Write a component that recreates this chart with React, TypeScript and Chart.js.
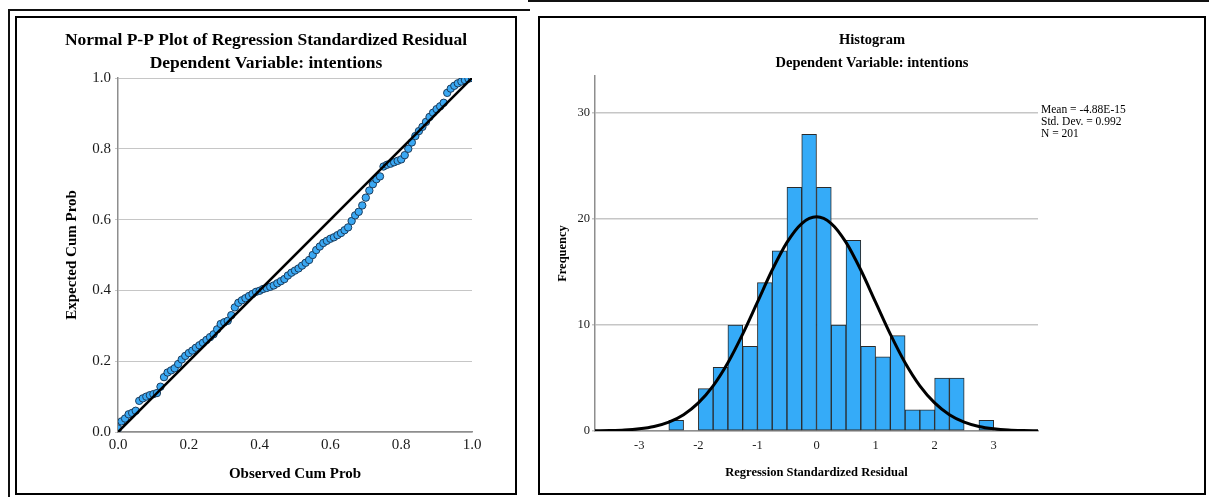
import React, { useEffect, useRef } from "react";
import { Chart, registerables } from "chart.js";

Chart.register(...registerables);

const FONT = "'Liberation Serif', 'Times New Roman', serif";

// ---------- P-P plot data ----------
const ppTitleLines = ["Normal P-P Plot of Regression Standardized Residual", "Dependent Variable: intentions"];
const ppXAxisTitle = "Observed Cum Prob";
const ppYAxisTitle = "Expected Cum Prob";
const ppTicks = [0, 0.2, 0.4, 0.6, 0.8, 1.0];
const observedCumProb = [
  0.00, 0.01, 0.02, 0.03, 0.04, 0.05, 0.06, 0.07, 0.08, 0.09,
  0.10, 0.11, 0.12, 0.13, 0.14, 0.15, 0.16, 0.17, 0.18, 0.19,
  0.20, 0.21, 0.22, 0.23, 0.24, 0.25, 0.26, 0.27, 0.28, 0.29,
  0.30, 0.31, 0.32, 0.33, 0.34, 0.35, 0.36, 0.37, 0.38, 0.39,
  0.40, 0.41, 0.42, 0.43, 0.44, 0.45, 0.46, 0.47, 0.48, 0.49,
  0.50, 0.51, 0.52, 0.53, 0.54, 0.55, 0.56, 0.57, 0.58, 0.59,
  0.60, 0.61, 0.62, 0.63, 0.64, 0.65, 0.66, 0.67, 0.68, 0.69,
  0.70, 0.71, 0.72, 0.73, 0.74, 0.75, 0.76, 0.77, 0.78, 0.79,
  0.80, 0.81, 0.82, 0.83, 0.84, 0.85, 0.86, 0.87, 0.88, 0.89,
  0.90, 0.91, 0.92, 0.93, 0.94, 0.95, 0.96, 0.97, 0.98, 0.99,
  1.00,
];
const expectedCumProb = [
  0.010, 0.030, 0.038, 0.050, 0.054, 0.060, 0.088, 0.095, 0.100, 0.104,
  0.107, 0.110, 0.128, 0.155, 0.168, 0.174, 0.180, 0.192, 0.205, 0.215,
  0.223, 0.230, 0.238, 0.245, 0.252, 0.260, 0.268, 0.276, 0.290, 0.305,
  0.310, 0.314, 0.330, 0.352, 0.365, 0.372, 0.378, 0.384, 0.390, 0.396,
  0.399, 0.404, 0.407, 0.410, 0.414, 0.420, 0.426, 0.432, 0.442, 0.450,
  0.456, 0.462, 0.470, 0.478, 0.486, 0.500, 0.514, 0.524, 0.534, 0.540,
  0.546, 0.550, 0.556, 0.562, 0.570, 0.578, 0.596, 0.612, 0.622, 0.640,
  0.662, 0.682, 0.700, 0.714, 0.722, 0.750, 0.755, 0.758, 0.762, 0.766,
  0.770, 0.782, 0.800, 0.818, 0.836, 0.850, 0.862, 0.876, 0.890, 0.902,
  0.912, 0.920, 0.930, 0.958, 0.970, 0.978, 0.985, 0.990, 0.994, 0.998,
  1.000,
];
const diagonalX = [0, 1];
const diagonalY = [0, 1];

// ---------- Histogram data ----------
const histTitleLines = ["Histogram", "Dependent Variable: intentions"];
const histXAxisTitle = "Regression Standardized Residual";
const histYAxisTitle = "Frequency";
const histXTicks = [-3, -2, -1, 0, 1, 2, 3];
const histYTicks = [0, 10, 20, 30];
const binCenters = [
  -2.375, -2.125, -1.875, -1.625, -1.375, -1.125, -0.875, -0.625, -0.375, -0.125,
  0.125, 0.375, 0.625, 0.875, 1.125, 1.375, 1.625, 1.875, 2.125, 2.375, 2.625, 2.875,
];
const binCounts = [1, 0, 4, 6, 10, 8, 14, 17, 23, 28, 23, 10, 18, 8, 7, 9, 2, 2, 5, 5, 0, 1];
const normalCurveX = [
  -3.75, -3.5, -3.25, -3.0, -2.75, -2.5, -2.25, -2.0, -1.75, -1.5, -1.25, -1.0, -0.75, -0.5, -0.25,
  0, 0.25, 0.5, 0.75, 1.0, 1.25, 1.5, 1.75, 2.0, 2.25, 2.5, 2.75, 3.0, 3.25, 3.5, 3.75,
];
const normalCurveY = [
  0.02, 0.04, 0.09, 0.21, 0.43, 0.84, 1.54, 2.65, 4.26, 6.44, 9.14, 12.16, 15.19, 17.8, 19.58,
  20.21, 19.58, 17.8, 15.19, 12.16, 9.14, 6.44, 4.26, 2.65, 1.54, 0.84, 0.43, 0.21, 0.09, 0.04, 0.02,
];
const statsLines = ["Mean = -4.88E-15", "Std. Dev. = 0.992", "N = 201"];
const statsAnchorValue = 30;

const GRID = "#c6c6c6";
const AXIS = "#8e8e8e";

export default function App() {
  const ppRef = useRef<HTMLCanvasElement | null>(null);
  const histRef = useRef<HTMLCanvasElement | null>(null);

  useEffect(() => {
    const charts: Chart[] = [];

    if (ppRef.current) {
      charts.push(
        new Chart(ppRef.current, {
          type: "scatter",
          data: {
            datasets: [
              {
                type: "line",
                data: diagonalX.map((x, i) => ({ x, y: diagonalY[i] })),
                borderColor: "#000",
                borderWidth: 2.6,
                pointRadius: 0,
                fill: false,
                tension: 0,
              } as any,
              {
                type: "scatter",
                data: observedCumProb.map((x, i) => ({ x, y: expectedCumProb[i] })),
                backgroundColor: "#3aa8f3",
                borderColor: "#1b3c5c",
                borderWidth: 1,
                pointRadius: 3.7,
              } as any,
            ],
          },
          options: {
            responsive: false,
            animation: false,
            devicePixelRatio: 1,
            layout: { padding: { left: 0, right: 0, top: 0, bottom: 0 } },
            plugins: {
              legend: { display: false },
              tooltip: { enabled: false },
              title: {
                display: true,
                text: ppTitleLines,
                color: "#000",
                font: { family: FONT, size: 17.5, weight: "bold", lineHeight: 23 / 17.5 },
                padding: { top: 9.5, bottom: 3.5 },
              },
            },
            scales: {
              x: {
                type: "linear",
                min: 0,
                max: 1,
                afterBuildTicks: (s: any) => {
                  s.ticks = ppTicks.map((v) => ({ value: v }));
                },
                afterFit: (s: any) => {
                  s.height = 61;
                },
                grid: { display: false, drawTicks: false },
                border: { display: true, color: AXIS, width: 1.5 },
                ticks: {
                  padding: 4.5,
                  color: "#1a1a1a",
                  font: { family: FONT, size: 15 },
                  callback: (v: any) => Number(v).toFixed(1),
                  maxRotation: 0,
                },
                title: {
                  display: true,
                  text: ppXAxisTitle,
                  color: "#000",
                  font: { family: FONT, size: 15, weight: "bold" },
                  padding: { top: 0, bottom: 10 },
                },
              },
              y: {
                type: "linear",
                position: "left",
                min: 0,
                max: 1,
                afterBuildTicks: (s: any) => {
                  s.ticks = ppTicks.map((v) => ({ value: v }));
                },
                afterFit: (s: any) => {
                  s.width = 101;
                },
                grid: { color: GRID, lineWidth: 1, drawTicks: true, tickLength: 3 },
                border: { display: true, color: AXIS, width: 1.5 },
                ticks: {
                  padding: 4,
                  color: "#1a1a1a",
                  font: { family: FONT, size: 15 },
                  callback: (v: any) => Number(v).toFixed(1),
                },
                title: {
                  display: true,
                  text: ppYAxisTitle,
                  color: "#000",
                  font: { family: FONT, size: 15, weight: "bold" },
                  padding: { top: 46, bottom: 0 },
                },
              },
              spacer: {
                type: "linear",
                position: "right",
                display: true,
                afterFit: (s: any) => {
                  s.width = 43;
                },
                grid: { display: false, drawTicks: false },
                border: { display: false },
                ticks: { display: false },
              },
            },
          } as any,
        })
      );
    }

    if (histRef.current) {
      const statsPlugin = {
        id: "histStats",
        afterDraw(chart: any) {
          const { ctx, chartArea, scales } = chart;
          const y0 = scales.y.getPixelForValue(statsAnchorValue);
          ctx.save();
          ctx.fillStyle = "#000";
          ctx.font = `11.5px ${FONT}`;
          ctx.textAlign = "left";
          ctx.textBaseline = "middle";
          statsLines.forEach((t, i) => ctx.fillText(t, chartArea.right + 3, y0 - 3 + i * 12));
          ctx.restore();
        },
      };

      const bars = binCenters
        .map((x, i) => ({ x, y: binCounts[i] }))
        .filter((p) => p.y > 0);

      charts.push(
        new Chart(histRef.current, {
          type: "bar",
          data: {
            datasets: [
              {
                type: "line",
                data: normalCurveX.map((x, i) => ({ x, y: normalCurveY[i] })),
                borderColor: "#000",
                borderWidth: 3,
                pointRadius: 0,
                fill: false,
                cubicInterpolationMode: "monotone",
              } as any,
              {
                type: "bar",
                data: bars,
                backgroundColor: "#35abf8",
                borderColor: "#2a2a2a",
                borderWidth: 1,
                barPercentage: 1,
                categoryPercentage: 1,
                borderSkipped: false,
              } as any,
            ],
          },
          options: {
            responsive: false,
            animation: false,
            devicePixelRatio: 1,
            layout: { padding: { left: 0, right: 0, top: 0, bottom: 0 } },
            plugins: {
              legend: { display: false },
              tooltip: { enabled: false },
              title: {
                display: true,
                text: histTitleLines,
                color: "#000",
                font: { family: FONT, size: 14.5, weight: "bold", lineHeight: 23 / 14.5 },
                padding: { top: 9.5, bottom: 1.5 },
              },
            },
            scales: {
              x: {
                type: "linear",
                min: -3.75,
                max: 3.75,
                offset: false,
                afterBuildTicks: (s: any) => {
                  s.ticks = histXTicks.map((v) => ({ value: v }));
                },
                afterFit: (s: any) => {
                  s.height = 62;
                },
                grid: { display: false, drawTicks: false, offset: false },
                border: { display: true, color: AXIS, width: 1.5 },
                ticks: {
                  padding: 7,
                  color: "#1a1a1a",
                  font: { family: FONT, size: 12.5 },
                  callback: (v: any) => String(v),
                  maxRotation: 0,
                },
                title: {
                  display: true,
                  text: histXAxisTitle,
                  color: "#000",
                  font: { family: FONT, size: 12.5, weight: "bold" },
                  padding: { top: 0, bottom: 12.5 },
                },
              },
              y: {
                type: "linear",
                position: "left",
                min: 0,
                max: 33.5,
                afterBuildTicks: (s: any) => {
                  s.ticks = histYTicks.map((v) => ({ value: v }));
                },
                afterFit: (s: any) => {
                  s.width = 55;
                },
                grid: { color: GRID, lineWidth: 1.5, drawTicks: true, tickLength: 3 },
                border: { display: true, color: AXIS, width: 1.5 },
                ticks: {
                  padding: 2,
                  color: "#1a1a1a",
                  font: { family: FONT, size: 12.5 },
                  callback: (v: any) => String(v),
                },
                title: {
                  display: true,
                  text: histYAxisTitle,
                  color: "#000",
                  font: { family: FONT, size: 12.5, weight: "bold" },
                  padding: { top: 15.5, bottom: 0 },
                },
              },
              spacer: {
                type: "linear",
                position: "right",
                display: true,
                afterFit: (s: any) => {
                  s.width = 166;
                },
                grid: { display: false, drawTicks: false },
                border: { display: false },
                ticks: { display: false },
              },
            },
          } as any,
          plugins: [statsPlugin],
        })
      );
    }

    return () => {
      charts.forEach((c) => c.destroy());
    };
  }, []);

  return (
    <div
      style={{
        position: "fixed",
        left: 0,
        top: 0,
        width: 1209,
        height: 497,
        background: "#fff",
        overflow: "hidden",
      }}
    >
      {/* outer frame lines */}
      <div style={{ position: "absolute", left: 8, top: 9, width: 522, height: 2, background: "#111" }} />
      <div style={{ position: "absolute", left: 8, top: 9, width: 2, height: 488, background: "#111" }} />
      <div style={{ position: "absolute", left: 528, top: 0, width: 681, height: 2, background: "#111" }} />
      {/* panels */}
      <div
        style={{
          position: "absolute",
          left: 15,
          top: 16,
          width: 502,
          height: 479,
          border: "2px solid #000",
          boxSizing: "border-box",
        }}
      />
      <div
        style={{
          position: "absolute",
          left: 538,
          top: 16,
          width: 668,
          height: 479,
          border: "2px solid #000",
          boxSizing: "border-box",
        }}
      />
      <canvas
        ref={ppRef}
        width={498}
        height={474}
        style={{ position: "absolute", left: 17, top: 19, width: 498, height: 474 }}
      />
      <canvas
        ref={histRef}
        width={664}
        height={474}
        style={{ position: "absolute", left: 540, top: 19, width: 664, height: 474 }}
      />
    </div>
  );
}
